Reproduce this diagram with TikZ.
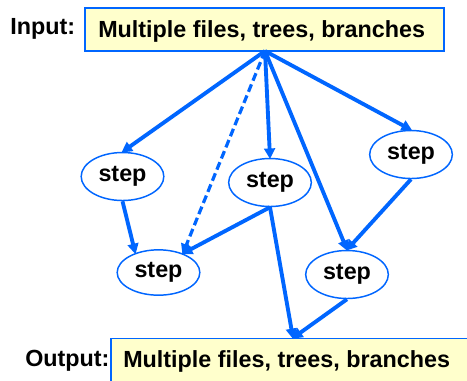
\documentclass[tikz,border=0pt]{standalone}
\usepackage{fontspec}
\setmainfont{Liberation Sans}
\usetikzlibrary{shapes.geometric,arrows.meta}
\definecolor{flowblue}{RGB}{0,102,255}
\definecolor{boxfill}{RGB}{255,255,204}
\tikzset{
  lbl/.style={font=\fontsize{17.5}{20}\selectfont\bfseries, inner sep=0pt},
  filebox/.style={draw=flowblue, line width=1.1pt, fill=boxfill, inner sep=0pt},
  stepnode/.style={ellipse, draw=flowblue, line width=1.1pt, fill=white,
    minimum width=62pt, minimum height=36pt, inner sep=0pt,
    font=\fontsize{17.5}{20}\selectfont\bfseries},
  flow/.style={draw=flowblue, line width=2.9pt,
    -{Triangle[length=8pt,width=8pt]}, shorten >=-1pt},
}
\begin{document}
\begin{tikzpicture}[x=0.75pt, y=-0.75pt]
  \useasboundingbox (0,0) rectangle (467,380);
  \fill[white] (0,0) rectangle (467,380);

  % input and output file sets
  \node[filebox, minimum width=269pt, minimum height=32pt] (in) at (264.5,29.5) {};
  \node[lbl, anchor=west] (intxt) at (98,31) {Multiple files, trees, branches};
  \node[lbl, anchor=west] (inlbl) at (10,29) {Input:};
  \coordinate (hub) at (265,51);

  \node[filebox, minimum width=273pt, minimum height=38pt] (out) at (293,364) {};
  \node[lbl, anchor=west] (outtxt) at (123,361) {Multiple files, trees, branches};
  \node[lbl, anchor=west] (outlbl) at (25,361) {Output:};

  % steps
  \node[stepnode] (e1) at (122.5,176.5) {step};
  \node[stepnode] (e2) at (270,182.5) {step};
  \node[stepnode] (e3) at (411,154.5) {step};
  \node[stepnode, minimum height=34pt] (e4) at (158.5,272.5) {step};
  \node[stepnode] (e5) at (347,274.5) {step};

  % connectors
  \draw[flow] (hub) -- (e1.north);
  \draw[flow, dash pattern=on 6pt off 3pt, line width=2.4pt] (hub) -- (e4.38);
  \draw[flow] (hub) -- (e2.north);
  \draw[flow] (hub) -- (e5.north);
  \draw[flow] (hub) -- (e3.north);
  \draw[flow] (e1.south) -- (e4.140);
  \draw[flow] (e2.south) -- (e4.38);
  \draw[flow] (e2.south) -- (out.north);
  \draw[flow] (e3.south) -- (e5.north);
  \draw[flow] (e5.south) -- (out.north);
\end{tikzpicture}
\end{document}
